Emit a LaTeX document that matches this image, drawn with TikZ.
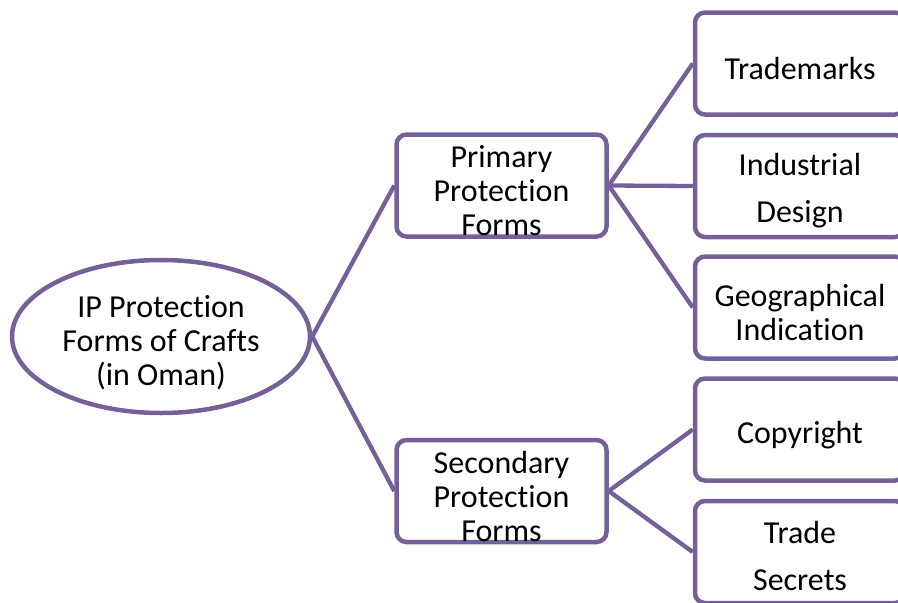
\documentclass[tikz,border=0pt]{standalone}
\usepackage{fontspec}
\setmainfont{Carlito}[Ligatures={NoCommon,NoRare,NoContextual}]
\usepackage{tikz}
\usetikzlibrary{shapes.geometric,positioning}
\definecolor{smartpurple}{RGB}{118,96,154}

\begin{document}
\begin{tikzpicture}[x=1pt, y=-1pt,
  formbox/.style={draw=smartpurple, line width=4.5pt, rounded corners=10pt,
    minimum width=210pt, minimum height=102pt, inner sep=0pt},
  rootoval/.style={ellipse, draw=smartpurple, line width=4.5pt,
    minimum width=298pt, minimum height=153pt, inner sep=0pt},
  label/.style={align=center, font=\fontsize{32}{34}\selectfont},
  link/.style={draw=smartpurple, line width=4.3pt}]

\clip (0,0) rectangle (898,603);
\useasboundingbox (0,0) rectangle (898,603);

%% root
\node[rootoval] (root) at (161,336.5) {};
\node[label] (roottxt) at (161,343) {IP Protection\\Forms of Crafts\\(in Oman)};

%% second level
\node[formbox] (prim) at (501.5,185.5) {};
\node[label] (primtxt) at (501.5,191) {Primary\\Protection\\Forms};
\node[formbox] (sec) at (501.5,491) {};
\node[label] (sectxt) at (501.5,496.5) {Secondary\\Protection\\Forms};

%% third level
\node[formbox] (tm) at (800,63.5) {};
\node[label] (tmtxt) at (800,69) {Trademarks};
\node[formbox] (ind) at (800,186) {};
\node[label] (indtxt) at (800,191) {Industrial\\[13pt]Design};
\node[formbox] (geo) at (800,307.5) {};
\node[label] (geotxt) at (800,312.5) {Geographical\\Indication};
\node[formbox] (copy) at (800,429.5) {};
\node[label] (copytxt) at (800,435) {Copyright};
\node[formbox] (sect) at (800,552) {};
\node[label] (secttxt) at (800,556) {Trade\\[13pt]Secrets};

%% connectors
\draw[link] (root.east) -- (prim.west);
\draw[link] (root.east) -- (sec.west);
\foreach \leaf in {tm,ind,geo}
  \draw[link] (prim.east) -- (\leaf.west);
\foreach \leaf in {copy,sect}
  \draw[link] (sec.east) -- (\leaf.west);

\end{tikzpicture}
\end{document}
